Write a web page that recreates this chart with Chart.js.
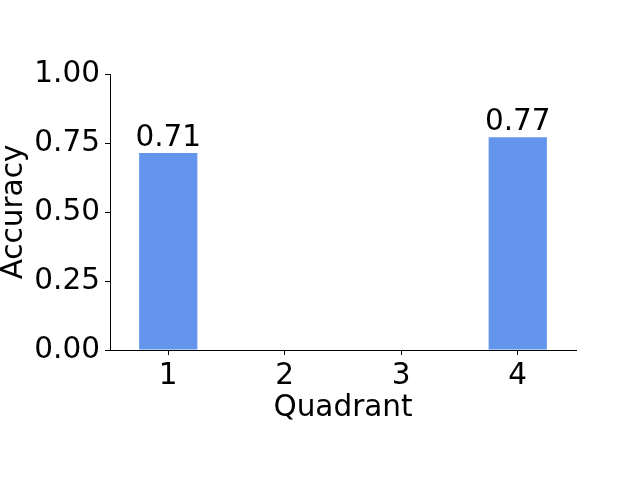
<!DOCTYPE html>
<html lang="en">
<head>
  <meta charset="UTF-8">
  <title>Accuracy by quadrant</title>
  <script src="https://cdn.jsdelivr.net/npm/chart.js"></script>
  <style>
    body { margin: 0; background: #fff; }
    canvas { display: block; }
  </style>
</head>
<body>

<canvas id="chartAccuracy" width="640" height="480"></canvas>

<script>
  // === Data ===
  const quadrants = ["1", "2", "3", "4"];
  const accuracy = [0.714, null, null, 0.771];
  const yTicks = [0, 0.25, 0.5, 0.75, 1.0];

  const FONT_SIZE = 29.5;
  Chart.defaults.font.family = "'DejaVu Sans', sans-serif";
  Chart.defaults.font.size = FONT_SIZE;
  Chart.defaults.color = "#000";

  // value labels above the bars
  const barLabels = {
    id: "barLabels",
    afterDatasetsDraw(chart) {
      const ctx = chart.ctx;
      const meta = chart.getDatasetMeta(0);
      ctx.save();
      ctx.font = FONT_SIZE + "px 'DejaVu Sans', sans-serif";
      ctx.fillStyle = "#000";
      ctx.textAlign = "center";
      ctx.textBaseline = "alphabetic";
      meta.data.forEach((bar, i) => {
        const v = accuracy[i];
        if (v == null) return;
        ctx.fillText(v.toFixed(2), bar.x, bar.y - 7);
      });
      ctx.restore();
    }
  };

  new Chart(document.getElementById("chartAccuracy"), {
    type: "bar",
    data: {
      labels: quadrants,
      datasets: [{
        label: "Accuracy",
        data: accuracy,
        backgroundColor: "#6495ED",
        borderWidth: 0,
        barPercentage: 0.5,
        categoryPercentage: 1.0
      }]
    },
    options: {
      responsive: false,
      animation: false,
      layout: { padding: { top: 74, right: 64, left: 0, bottom: 0 } },
      plugins: {
        legend: { display: false },
        tooltip: { enabled: false }
      },
      scales: {
        x: {
          offset: true,
          grid: { offset: false, drawOnChartArea: false, drawTicks: true, tickLength: 5, color: "#000", lineWidth: 1 },
          border: { display: true, color: "#000", width: 1 },
          ticks: { padding: 4, maxRotation: 0 },
          title: { display: true, text: "Quadrant", font: { size: FONT_SIZE, lineHeight: 1 }, padding: { top: 0, bottom: 57 } },
          afterFit: s => { s.height = 130; }
        },
        y: {
          min: 0,
          max: 1,
          afterBuildTicks: s => { s.ticks = yTicks.map(v => ({ value: v })); },
          grid: { drawOnChartArea: false, drawTicks: true, tickLength: 5, color: "#000", lineWidth: 1 },
          border: { display: true, color: "#000", width: 1 },
          ticks: { padding: 5, callback: v => Number(v).toFixed(2) },
          title: { display: true, text: "Accuracy", font: { size: FONT_SIZE, lineHeight: 1 }, padding: 0 },
          afterFit: s => { s.width = 110; }
        }
      }
    },
    plugins: [barLabels]
  });
</script>

</body>
</html>
